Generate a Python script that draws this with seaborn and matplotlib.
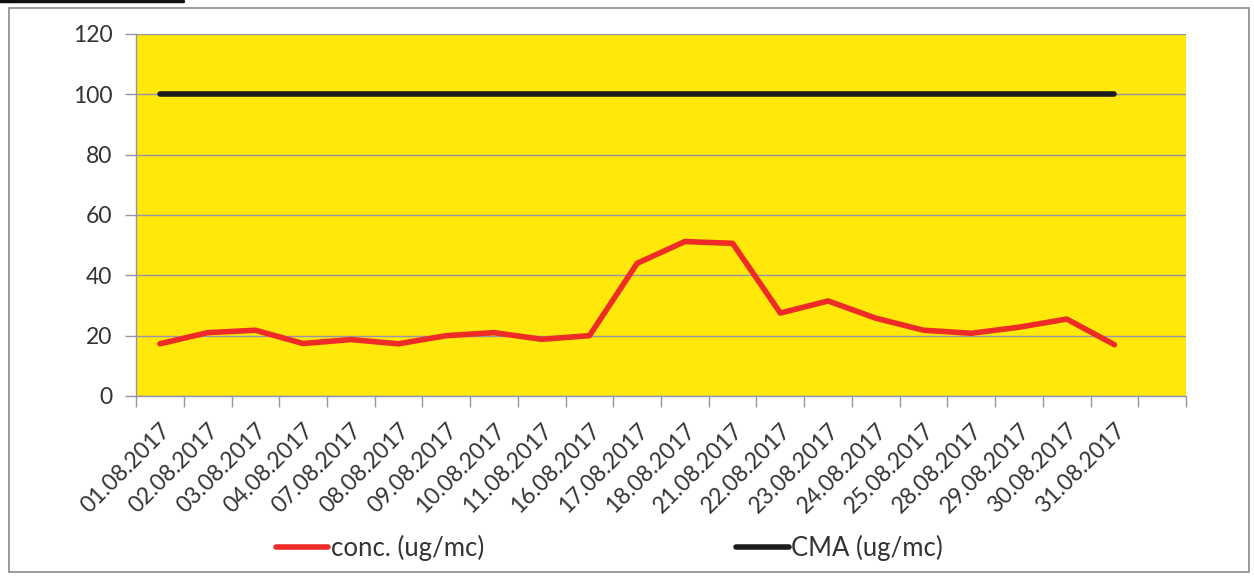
import matplotlib
matplotlib.use("Agg")
import matplotlib.pyplot as plt
import matplotlib.lines as mlines
import numpy as np
import pandas as pd
import seaborn as sns

dates = [
    "01.08.2017", "02.08.2017", "03.08.2017", "04.08.2017", "07.08.2017",
    "08.08.2017", "09.08.2017", "10.08.2017", "11.08.2017", "16.08.2017",
    "17.08.2017", "18.08.2017", "21.08.2017", "22.08.2017", "23.08.2017",
    "24.08.2017", "25.08.2017", "28.08.2017", "29.08.2017", "30.08.2017",
    "31.08.2017",
]
conc = [17.3, 21.0, 21.8, 17.4, 18.7, 17.3, 20.0, 21.0, 18.8, 20.0,
        44.0, 51.2, 50.6, 27.5, 31.5, 25.8, 21.8, 20.8, 22.8, 25.5, 17.0]
cma = [100] * len(dates)
yticks = [0, 20, 40, 60, 80, 100, 120]

conc_label = "conc. (ug/mc)"
cma_label = "CMA (ug/mc)"

yellow = "#ffe80a"
red = "#ee2b26"
black = "#1c1c1c"
grid_col = "#9494ad"

df = pd.DataFrame({
    "date": dates * 2,
    "value": conc + cma,
    "series": [conc_label] * len(dates) + [cma_label] * len(dates),
})

sns.set_style("white")
plt.rcParams["font.family"] = ["Lato", "DejaVu Sans"]
plt.rcParams["text.color"] = "#333333"

fig = plt.figure(figsize=(12.54, 5.77), dpi=100)
ax = fig.add_axes([0.1085, 0.3137, 0.8373, 0.6274])
ax.set_facecolor(yellow)

sns.lineplot(
    data=df, x="date", y="value", hue="series",
    palette={conc_label: red, cma_label: black},
    linewidth=4.0, sort=False, legend=False, ax=ax,
)

ax.set_xlim(-0.5, len(dates) + 0.5)
ax.set_ylim(0, 120)
ax.set_yticks(yticks)
ax.yaxis.grid(True, color=grid_col, linewidth=1.0)
ax.set_axisbelow(True)
ax.set_xlabel("")
ax.set_ylabel("")

ax.set_xticks(range(len(dates)))
ax.set_xticklabels(dates, rotation=45, ha="right", va="top", rotation_mode="anchor")
ax.set_xticks(np.arange(-0.5, len(dates) + 1, 1), minor=True)
ax.tick_params(axis="x", which="major", length=0, pad=17, labelsize=16.5, labelcolor="#333333")
ax.tick_params(axis="x", which="minor", length=8, width=1, color=grid_col, direction="out", bottom=True)
ax.tick_params(axis="y", length=8, width=1, color=grid_col, pad=9, labelsize=16.5, labelcolor="#333333", left=True)

for side in ["top", "right"]:
    ax.spines[side].set_visible(False)
for side in ["left", "bottom"]:
    ax.spines[side].set_color(grid_col)
    ax.spines[side].set_linewidth(1.0)

handles = [
    mlines.Line2D([], [], color=red, linewidth=4.0),
    mlines.Line2D([], [], color=black, linewidth=4.0),
]
fig.legend(
    handles, [conc_label, cma_label], loc="center", bbox_to_anchor=(0.486, 0.05),
    ncol=2, frameon=False, fontsize=18.5, handlelength=2.05, handletextpad=0.1,
    columnspacing=9.8,
)

# scanned page frame
fig.add_artist(plt.Rectangle((0.007, 0.008), 0.989, 0.978, transform=fig.transFigure,
                             fill=False, edgecolor="#8a8a8a", linewidth=1.2))
fig.add_artist(mlines.Line2D([0.0, 0.146], [0.998, 0.998], transform=fig.transFigure,
                             color="#111111", linewidth=2.5))

fig.savefig("out.png", dpi=100)
